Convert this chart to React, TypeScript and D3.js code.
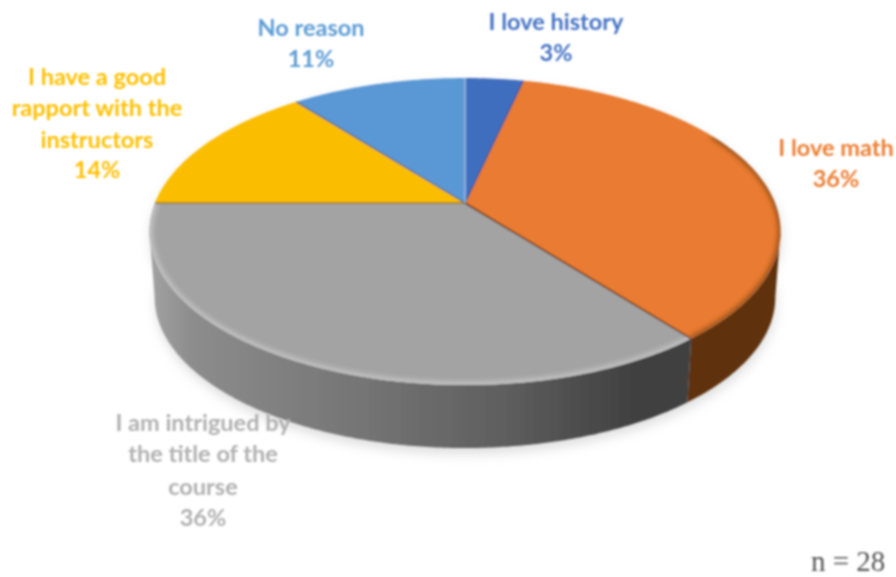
import React from "react";
import * as d3 from "d3";

const categories = ["I love history", "I love math", "I am intrigued by the title of the course", "I have a good rapport with the instructors", "No reason"];
const counts = [1, 10, 10, 4, 3];
const percentLabels = ["3%", "36%", "36%", "14%", "11%"];
const topColors = ["#3f6ebf", "#e97b30", "#a3a3a3", "#fbbd00", "#5a98d5"];
const wallColors = ["#28467c", "#5e3211", "url(#grayWall)", "#7d6000", "#2e5f8f"];
const edgeColors = ["#2c4f8d", "#5e3211", "#9a7a10", "#a47c00", "#3a6a9c"];

const labelLines = [
  { lines: ["I love history", percentLabels[0]], x: 556, ys: [30, 61], color: "#4472c4" },
  { lines: ["I love math", percentLabels[1]], x: 836, ys: [156, 187], color: "#ed7d31" },
  { lines: ["I am intrigued by", "the title of the", "course", percentLabels[2]], x: 203, ys: [431, 462, 495, 526], color: "#b0b0b0" },
  { lines: ["I have a good", "rapport with the", "instructors", percentLabels[3]], x: 97, ys: [85, 116, 148, 178], color: "#ffc000" },
  { lines: ["No reason", percentLabels[4]], x: 311, ys: [36, 67], color: "#5b9bd5" },
];

const cx = 465, cy = 203, k = 0.186, a = 310, b = 148.2, depth = 66;

function project(t: number, drop = 0): [number, number] {
  const x = Math.sin(t), y = -Math.cos(t);
  const w = 1 - k * y;
  const s = 1 - drop * 0.00025;
  return [cx + (a * x * s) / w, cy + drop + (b * y * s) / w];
}
function samples(t0: number, t1: number) {
  const n = Math.max(2, Math.ceil(Math.abs(t1 - t0) / 0.01));
  return d3.range(n + 1).map((i) => t0 + ((t1 - t0) * i) / n);
}
const line = d3.line();
const arcs = d3.pie<number>().sort(null).value((d) => d)(counts);
const all = samples(0, Math.PI * 2);
const leftAngle = d3.least(all, (t) => project(t)[0]) as number;
const rightAngle = d3.least(all, (t) => -project(t)[0]) as number;

function face(t0: number, t1: number) {
  return line([[cx, cy], ...samples(t0, t1).map((t) => project(t))]) + "Z";
}
function wall(t0: number, t1: number) {
  const ts = samples(t0, t1);
  return line([...ts.map((t) => project(t)), ...ts.slice().reverse().map((t) => project(t, depth))]) + "Z";
}
const rim = (t0: number, t1: number) => line(samples(t0, t1).map((t) => project(t))) as string;

export default function App() {
  const [gray, orange] = [arcs[2], arcs[1]];
  return (
    <svg width={896} height={577} style={{ position: "absolute", left: 0, top: 0, background: "#fff" }}>
      <defs>
        <linearGradient id="grayWall" gradientUnits="userSpaceOnUse" x1={150} x2={690} y1={0} y2={0}>
          <stop offset="0" stopColor="#a2a2a2" />
          <stop offset="0.08" stopColor="#8c8c8c" />
          <stop offset="0.4" stopColor="#747474" />
          <stop offset="0.65" stopColor="#5f5f5f" />
          <stop offset="0.88" stopColor="#424242" />
          <stop offset="1" stopColor="#3f3f3f" />
        </linearGradient>
        <filter id="b1" x="-10%" y="-10%" width="120%" height="120%"><feGaussianBlur stdDeviation="0.8" /></filter>
        <filter id="b2" x="-10%" y="-10%" width="120%" height="120%"><feGaussianBlur stdDeviation="2.4" /></filter>
        <filter id="b6" x="-10%" y="-10%" width="120%" height="120%"><feGaussianBlur stdDeviation="6" /></filter>
        <clipPath id="grayClip"><path d={face(gray.startAngle, gray.endAngle)} /></clipPath>
        <clipPath id="orangeClip"><path d={face(orange.startAngle, orange.endAngle)} /></clipPath>
      </defs>

      <path d={wall(0, Math.PI * 2)} transform="translate(1,6)" fill="#c4c4c4" opacity={0.55} filter="url(#b6)" />

      <g filter="url(#b1)">
        <path d={wall(rightAngle, orange.endAngle)} fill={wallColors[1]} />
        <path d={wall(orange.endAngle, leftAngle)} fill={wallColors[2]} />
        {arcs.map((s, i) => (
          <path key={categories[i]} d={face(s.startAngle, s.endAngle)} fill={topColors[i]} />
        ))}
        <g clipPath="url(#grayClip)">
          <path d={rim(gray.startAngle, gray.endAngle)} fill="none" stroke="#c6c6c6" strokeWidth={6} filter="url(#b2)" />
        </g>
        <g clipPath="url(#orangeClip)">
          <path d={rim(rightAngle - 0.7, orange.endAngle)} fill="none" stroke="#7a4018" strokeWidth={4} filter="url(#b2)" />
        </g>
        <path d={line([[cx, cy], project(arcs[1].endAngle)]) as string} fill="none" stroke={edgeColors[1]} strokeWidth={1.5} />
        <path d={line([[cx, cy], project(arcs[2].endAngle)]) as string} fill="none" stroke={edgeColors[2]} strokeWidth={1.6} />
        <path d={line([[cx, cy], project(arcs[0].endAngle)]) as string} fill="none" stroke={edgeColors[0]} strokeWidth={1.2} />
        <path d={line([[cx, cy], project(arcs[3].endAngle)]) as string} fill="none" stroke="#55667a" strokeWidth={1.3} />
        <path d={line([[cx, cy], project(0)]) as string} fill="none" stroke="#a9c6e6" strokeWidth={1.3} />
      </g>

      <g filter="url(#b1)" fontFamily="Lato, sans-serif" fontWeight={700} fontSize={23.5} textAnchor="middle">
        {labelLines.map((l) =>
          l.lines.map((t, i) => (
            <text key={t + i} x={l.x} y={l.ys[i]} fill={l.color}>{t}</text>
          ))
        )}
      </g>
      <text x={811} y={570.5} fontFamily="'Liberation Serif', serif" fontSize={29} fill="#555" filter="url(#b1)">n = 28</text>
    </svg>
  );
}
